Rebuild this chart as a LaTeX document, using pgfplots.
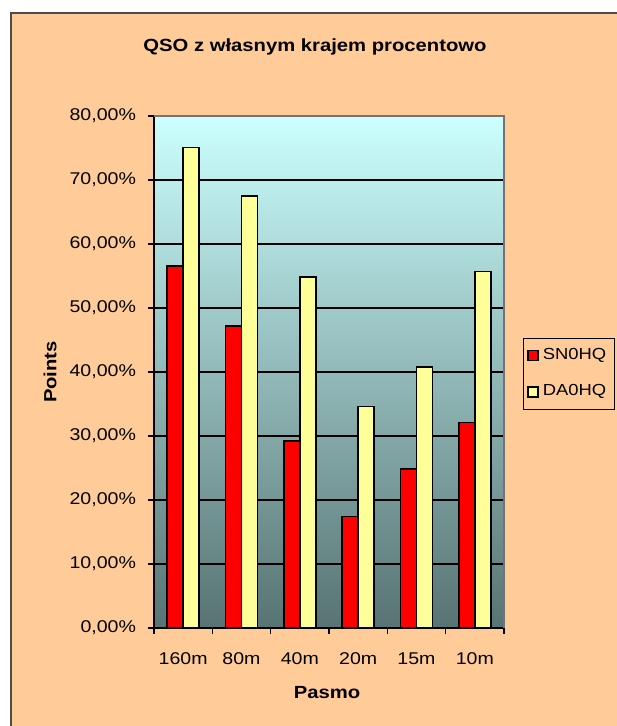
\documentclass[border=0pt]{standalone}
\usepackage{fontspec}
\setmainfont{Liberation Sans}[FakeStretch=1.15]
\usepackage{pgfplots}
\pgfplotsset{compat=1.18}
\definecolor{peach}{HTML}{FFCC99}
\definecolor{bgtop}{HTML}{CCFFFF}
\definecolor{bgbot}{HTML}{587373}
\definecolor{barred}{HTML}{FF0000}
\definecolor{baryel}{HTML}{FFFF99}
\begin{document}
\begin{tikzpicture}[x=0.5pt,y=0.5pt]
\path[use as bounding box] (0,0) rectangle (616,726);
\fill[white] (0,0) rectangle (616,726);
\fill[peach] (11,0) rectangle (620,713);
\draw[line width=0.8pt, color=black!70] (11,-5) -- (11,713) -- (620,713);
\begin{axis}[
  at={(77pt,49pt)}, anchor=south west,
  scale only axis, width=175pt, height=256pt,
  axis x line*=bottom, axis y line*=left,
  x axis line style={-, black, line width=0.8pt},
  y axis line style={-, black, line width=0.8pt},
  axis background/.style={top color=bgtop, bottom color=bgbot},
  ybar=0pt, bar width=8pt,
  xmin=-0.5, xmax=5.5, ymin=0, ymax=80,
  xtick={0,...,5},
  xticklabels={160m,80m,40m,20m,15m,10m},
  major x tick style={draw=none},
  minor xtick={-0.5,0.5,...,5.5},
  minor x tick style={black, line width=0.8pt},
  ytick={0,10,...,80},
  major y tick style={black, line width=0.8pt},
  tick align=outside,
  major tick length=3pt, minor tick length=3pt,
  ymajorgrids, grid style={black, line width=0.8pt},
  yticklabel={\pgfmathprintnumber[fixed,fixed zerofill,precision=2,use comma,assume math mode=true]{\tick}\%},
  tick label style={font=\fontsize{8.5}{10}\selectfont},
  yticklabel style={xshift=-2.5pt},
  xticklabel style={yshift=-6pt},
  legend style={at={(axis description cs:1.054,0.566)}, anchor=north west,
    fill=peach, draw=black, font=\fontsize{8}{9.5}\selectfont,
    row sep=7pt, inner ysep=3pt, inner xsep=2pt},
  legend cell align=left,
  legend image code/.code={\draw[#1, bar shift=0pt] (0pt,-2.5pt) rectangle (5pt,2.5pt);},
  after end axis/.code={
    \draw[black!55, line width=0.8pt] (rel axis cs:0,1) -- (rel axis cs:1,1) -- (rel axis cs:1,0);
  },
]
\addplot[fill=barred, draw=black, line width=0.8pt] coordinates {(0,56.6) (1,47.2) (2,29.2) (3,17.4) (4,24.8) (5,32.1)};
\addplot[fill=baryel, draw=black, line width=0.8pt] coordinates {(0,75.1) (1,67.5) (2,54.8) (3,34.6) (4,40.8) (5,55.7)};
\legend{SN0HQ,DA0HQ}
\end{axis}
\node[font=\bfseries\fontsize{8.8}{10}\selectfont] at (315,679) {QSO z własnym krajem procentowo};
\node[font=\bfseries\fontsize{8.8}{10}\selectfont] at (327,33) {Pasmo};
\node[font=\bfseries\fontsize{8.8}{10}\selectfont, rotate=90] at (50,354) {Points};
\end{tikzpicture}
\end{document}
